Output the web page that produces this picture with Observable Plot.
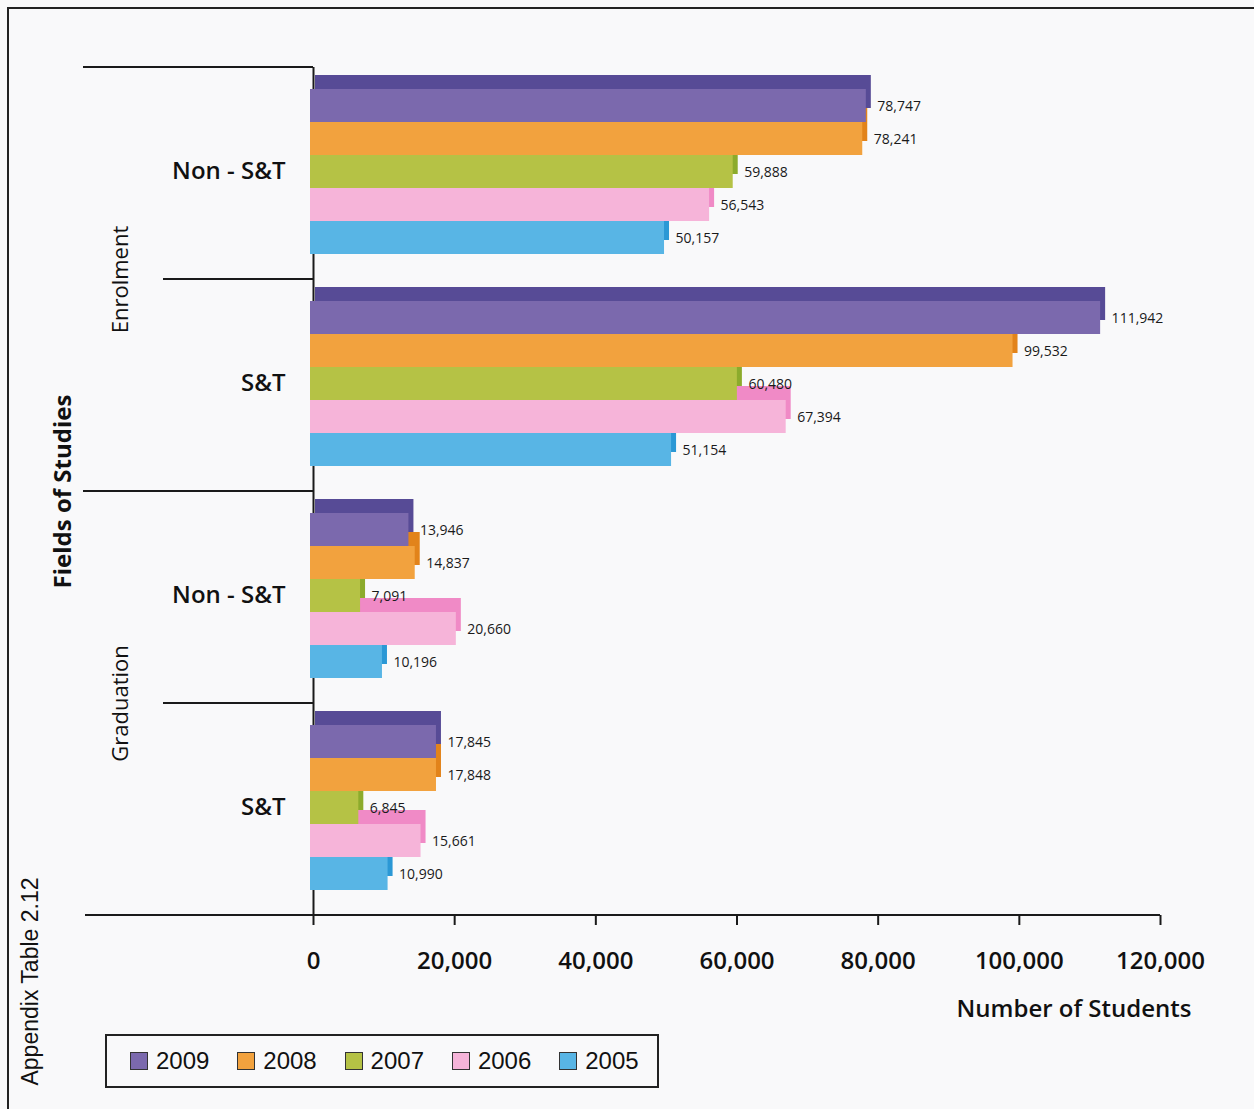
<!DOCTYPE html>
<html><head><meta charset="utf-8">
<script src="https://cdn.jsdelivr.net/npm/d3@7"></script>
<script src="https://cdn.jsdelivr.net/npm/@observablehq/plot@0.6"></script>
<style>
body{margin:0;background:#f9f9fa;}
#wrap{position:relative;width:1254px;height:1109px;overflow:hidden;background:#f9f9fa;}
#wrap svg{position:absolute;left:0;top:0;}
#frame{position:absolute;left:7px;top:7px;width:1260px;height:1120px;border-left:2px solid #222;border-top:2px solid #222;pointer-events:none;}
#legend{position:absolute;left:105px;top:1034px;width:554px;height:54px;border:2px solid #222;display:flex;align-items:center;font-family:"Liberation Sans",Arial,sans-serif;font-size:24px;color:#111;padding-left:23px;box-sizing:border-box;}
.item{display:flex;align-items:center;width:107.3px;flex:none;}
.sw{width:18px;height:18px;border:1px solid #333;margin-right:8px;box-sizing:border-box;flex:none;}
</style>
</head><body>
<div id="wrap"><div id="frame"></div><div id="legend"></div></div>
<script>
// ---- data ----
const groups = ["Enrolment|Non - S&T", "Enrolment|S&T", "Graduation|Non - S&T", "Graduation|S&T"];
const years = ["2009", "2008", "2007", "2006", "2005"];
const v2009 = [78747, 111942, 13946, 17845];
const v2008 = [78241, 99532, 14837, 17848];
const v2007 = [59888, 60480, 7091, 6845];
const v2006 = [56543, 67394, 20660, 15661];
const v2005 = [50157, 51154, 10196, 10990];
const xTicks = [0, 20000, 40000, 60000, 80000, 100000, 120000];
const frontColors = ["#7b69ad", "#f2a23e", "#b5c245", "#f6b4d9", "#58b5e5"];
const sideColors = ["#574b96", "#e2831a", "#8cab2c", "#f08ac6", "#2b98d5"];
const sideLabels = [{g: groups[1], t: "Enrolment"}, {g: groups[3], t: "Graduation"}];

(function () {
const series = [v2009, v2008, v2007, v2006, v2005];
const data = years.flatMap((yr, i) => groups.map((g, j) => ({year: yr, group: g, value: series[i][j]})));
const fmt = d3.format(",");

const marks = [];
marks.push(Plot.ruleX([0], {stroke: "#1a1a1a", strokeWidth: 2}));
years.forEach((yr, i) => marks.push(Plot.barX(data.filter(d => d.year === yr), {
  fy: "group", y: "year", x: "value", fill: sideColors[i], dx: 2, dy: -16
})));
years.forEach((yr, i) => marks.push(Plot.barX(data.filter(d => d.year === yr), {
  fy: "group", y: "year", x: "value", fill: frontColors[i], dx: -3, dy: -2
})));
marks.push(Plot.text(data, {
  fy: "group", y: "year", x: "value", text: d => fmt(d.value), dx: 8, dy: -1,
  textAnchor: "start", fontSize: 14, fill: "#1a1a1a"
}));
marks.push(Plot.axisX({
  anchor: "bottom", ticks: xTicks, tickFormat: fmt, tickSize: 10, tickPadding: 26,
  fontSize: 24, fontWeight: 600, label: null, stroke: "#1a1a1a", strokeWidth: 2, fill: "#111"
}));
marks.push(Plot.axisFy({
  anchor: "left", tickFormat: d => d.split("|")[1], tickSize: 0, tickPadding: 28, dy: -2,
  fontSize: 24, fontWeight: 600, label: null, fill: "#111"
}));
marks.push(Plot.text(sideLabels, {
  fy: "g", text: "t", frameAnchor: "top-left", dx: -193, rotate: -90, fontSize: 22,
  textAnchor: "middle", lineAnchor: "middle", fill: "#111"
}));
marks.push(Plot.text([{g: groups[2], t: "Fields of Studies"}], {
  fy: "g", text: "t", frameAnchor: "top-left", dx: -250, rotate: -90, fontSize: 24, fontWeight: 700,
  textAnchor: "middle", lineAnchor: "middle", fill: "#111"
}));
marks.push(Plot.text([{g: groups[3], t: "Appendix Table 2.12"}], {
  fy: "g", text: "t", frameAnchor: "bottom-left", dx: -283, dy: 66, rotate: -90, fontSize: 23,
  textAnchor: "middle", lineAnchor: "middle", fontFamily: "Liberation Sans", fill: "#111"
}));
marks.push(Plot.text([{g: groups[3], t: "Number of Students"}], {
  fy: "g", text: "t", frameAnchor: "bottom-right", dx: 31, dy: 101, textAnchor: "end",
  fontSize: 24, fontWeight: 600, fill: "#111"
}));

const plot = Plot.plot({
  width: 1254, height: 1109,
  marginLeft: 313, marginRight: 94, marginTop: 67, marginBottom: 194,
  style: {fontFamily: "Open Sans", background: "transparent", overflow: "visible"},
  x: {domain: [0, 120000], axis: null},
  y: {domain: years, paddingInner: 0, paddingOuter: 0.71, axis: null},
  fy: {domain: groups, padding: 0, axis: null},
  marks
});
document.getElementById("wrap").insertBefore(plot, document.getElementById("frame"));

// bracket lines derived from the plot's scales
const fyS = plot.scale("fy"), xS = plot.scale("x");
const fyTop = Math.min(...fyS.range), step = fyS.step;
const x0 = xS.range[0], xEnd = xS.range[1];
const starts = [83, 163, 83, 163, 85];
const svg = d3.select(plot);
starts.forEach((s, i) => {
  svg.append("line").attr("x1", s).attr("x2", i === 4 ? xEnd : x0)
    .attr("y1", fyTop + i * step).attr("y2", fyTop + i * step)
    .attr("stroke", "#1a1a1a").attr("stroke-width", 2);
});

// legend
const leg = d3.select("#legend");
years.forEach((yr, i) => {
  const it = leg.append("div").attr("class", "item");
  it.append("div").attr("class", "sw").style("background", frontColors[i]);
  it.append("span").text(yr);
});
})();
</script>
</body></html>
